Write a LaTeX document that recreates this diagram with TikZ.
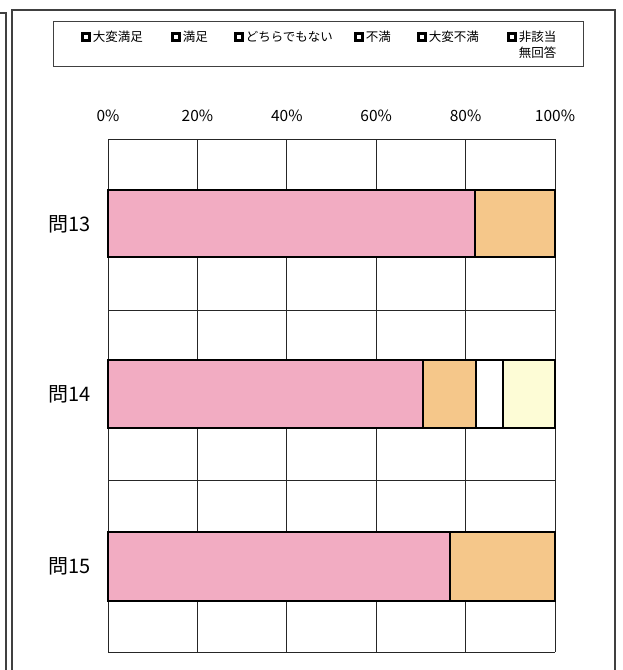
\documentclass[tikz,border=0pt]{standalone}
\usepackage{fontspec}
\setmainfont{Noto Sans CJK JP}
\usetikzlibrary{positioning}

\definecolor{barpink}{RGB}{242,172,194}
\definecolor{barorange}{RGB}{245,199,138}
\definecolor{barcream}{RGB}{253,252,214}

\begin{document}
\begin{tikzpicture}[x=1pt, y=-1pt, every node/.style={inner sep=0pt},
  frame/.style={draw=black!75, line width=1.3pt},
  gridline/.style={draw=black!85, line width=1pt},
  barseg/.style={draw=black, line width=2pt},
  key/.style={draw=black, line width=2.2pt, fill=white, minimum size=7pt},
  legtext/.style={font=\fontsize{12.5}{15}\selectfont, anchor=west},
  pct/.style={font=\fontsize{15.5}{17}\selectfont},
  qlabel/.style={font=\fontsize{20}{22}\selectfont, anchor=east}]

	\useasboundingbox (0,0) rectangle (622,670);

	% Outer frame
	\draw[frame] (-2,13) -- (6,13) -- (6,672);
	\draw[frame] (12,672) -- (12,10) -- (615,10) -- (615,672);

	% Legend
	\draw[frame, line width=1pt] (53,21) rectangle (583,66);
	\node[key] (k1) at (86,37) {};
	\node[legtext, right=2pt of k1] (l1) {大変満足};
	\node[key] (k2) at (176,37) {};
	\node[legtext, right=2pt of k2] (l2) {満足};
	\node[key] (k3) at (239,37) {};
	\node[legtext, right=2pt of k3] (l3) {どちらでもない};
	\node[key] (k4) at (359,37) {};
	\node[legtext, right=2pt of k4] (l4) {不満};
	\node[key] (k5) at (422,37) {};
	\node[legtext, right=2pt of k5] (l5) {大変不満};
	\node[key] (k6) at (512,37) {};
	\node[legtext, right=2pt of k6] (l6) {非該当};
	\node[legtext, anchor=north east] (l6b) at ([yshift=-4pt]l6.south east) {無回答};

	% Axis labels
	\foreach \p [count=\i] in {0,20,40,60,80,100}
		\node[pct] (pct\i) at (108+4.47*\p,116) {\p\%};

	% Grid
	\foreach \p in {0,20,40,60,80,100}
		\draw[gridline] (108+4.47*\p,139) -- (108+4.47*\p,652);
	\foreach \y in {139,310,480,652}
		\draw[gridline] (108,\y) -- (555,\y);

	% Bars
	\filldraw[barseg, fill=barpink]   (108,190) rectangle (475,257);
	\filldraw[barseg, fill=barorange] (475,190) rectangle (555,257);

	\filldraw[barseg, fill=barpink]   (108,360) rectangle (423,428);
	\filldraw[barseg, fill=barorange] (423,360) rectangle (476,428);
	\filldraw[barseg, fill=white]     (476,360) rectangle (503,428);
	\filldraw[barseg, fill=barcream]  (503,360) rectangle (555,428);

	\filldraw[barseg, fill=barpink]   (108,532) rectangle (450,601);
	\filldraw[barseg, fill=barorange] (450,532) rectangle (555,601);

	% Question labels
	\node[qlabel] (q13) at (91,224) {問13};
	\node[qlabel] (q14) at (91,394) {問14};
	\node[qlabel] (q15) at (91,566) {問15};
\end{tikzpicture}
\end{document}
